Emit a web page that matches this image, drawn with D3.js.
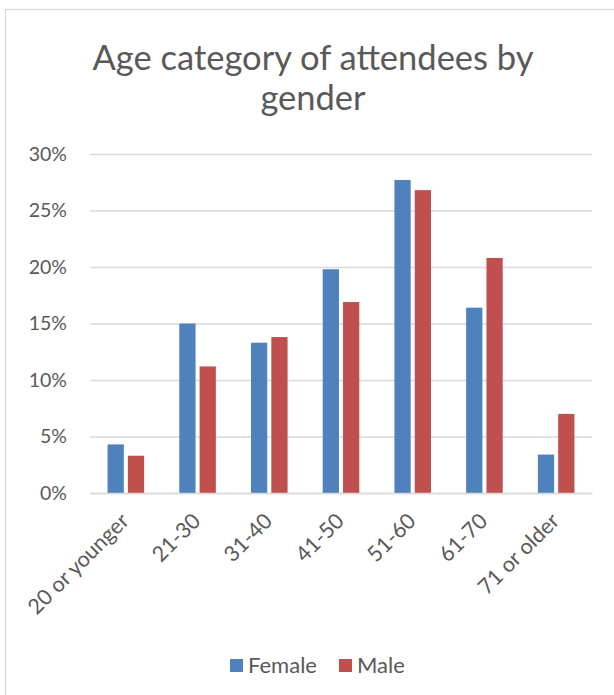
<!DOCTYPE html>
<html>
<head>
<meta charset="utf-8">
<script src="https://cdn.jsdelivr.net/npm/d3@7"></script>
<style>
  html, body { margin: 0; padding: 0; background: #fff; }
  svg { display: block; font-family: Lato, "Open Sans", sans-serif; }
</style>
</head>
<body>
<svg id="chart" width="614" height="695"></svg>
<script>
// Share of attendees in each age band, split by gender
const categories = ["20 or younger", "21-30", "31-40", "41-50", "51-60", "61-70", "71 or older"];
const series = ["Female", "Male"];
const femaleValues = [0.043, 0.150, 0.133, 0.198, 0.277, 0.164, 0.034];
const maleValues   = [0.033, 0.112, 0.138, 0.169, 0.268, 0.208, 0.070];
const yTicks = [0, 0.05, 0.10, 0.15, 0.20, 0.25, 0.30];
const titleLines = ["Age category of attendees by", "gender"];
const colors = { Female: "#4F81BD", Male: "#C0504D" };

const rows = categories.map((c, i) => ({ category: c, Female: femaleValues[i], Male: maleValues[i] }));

const svg = d3.select("#chart");
const textColor = "#595959";
const gridColor = "#D9D9D9";

// chart area frame
svg.append("rect")
  .attr("x", 5.5).attr("y", 9.5)
  .attr("width", 700).attr("height", 700)
  .attr("fill", "none").attr("stroke", gridColor).attr("stroke-width", 1.2);

// title
svg.append("g").selectAll("text")
  .data(titleLines)
  .join("text")
  .attr("x", 313)
  .attr("y", (d, i) => 70 + i * 40)
  .attr("text-anchor", "middle")
  .attr("fill", textColor)
  .attr("font-size", 34.5)
  .text(d => d);

const plot = { left: 90, right: 592, top: 154, bottom: 493 };

const x0 = d3.scaleBand()
  .domain(categories)
  .range([plot.left, plot.right])
  .paddingInner(0.49)
  .paddingOuter(0.245);

const x1 = d3.scaleBand()
  .domain(series)
  .range([0, x0.bandwidth()])
  .paddingInner(0.2);

const y = d3.scaleLinear()
  .domain([0, 0.30])
  .range([plot.bottom, plot.top]);

// horizontal gridlines with percent labels
const yAxis = d3.axisLeft(y)
  .tickValues(yTicks)
  .tickSize(-(plot.right - plot.left))
  .tickPadding(23)
  .tickFormat(d3.format(".0%"));

const gy = svg.append("g")
  .attr("transform", `translate(${plot.left},0)`)
  .call(yAxis);
gy.select(".domain").remove();
gy.selectAll(".tick line").attr("stroke", gridColor).attr("stroke-width", 1.3);
gy.selectAll(".tick text")
  .attr("fill", textColor)
  .attr("font-size", 19.5)
  .attr("font-family", "Lato, 'Open Sans', sans-serif");

// grouped bars
const groups = svg.append("g")
  .selectAll("g")
  .data(rows)
  .join("g")
  .attr("transform", d => `translate(${x0(d.category)},0)`);

groups.selectAll("rect")
  .data(d => series.map(s => ({ key: s, value: d[s] })))
  .join("rect")
  .attr("x", d => x1(d.key))
  .attr("width", x1.bandwidth())
  .attr("y", d => y(d.value))
  .attr("height", d => y(0) - y(d.value))
  .attr("fill", d => colors[d.key]);

// category axis line and rotated labels
const xAxis = d3.axisBottom(x0).tickSize(0).tickFormat("");
const gx = svg.append("g")
  .attr("transform", `translate(0,${plot.bottom})`)
  .call(xAxis);
gx.select(".domain").attr("stroke", gridColor).attr("stroke-width", 1.3);

svg.append("g").selectAll("text")
  .data(categories)
  .join("text")
  .attr("transform", d => `translate(${x0(d) + x0.bandwidth() / 2 - 1},${plot.bottom + 24}) rotate(-45)`)
  .attr("text-anchor", "end")
  .attr("dy", "0.35em")
  .attr("fill", textColor)
  .attr("font-size", 21.5)
  .text(d => d);

// legend
const legend = svg.append("g");
const legendX = [230, 339];
series.forEach((s, i) => {
  legend.append("rect")
    .attr("x", legendX[i]).attr("y", 659)
    .attr("width", 13).attr("height", 13)
    .attr("fill", colors[s]);
  legend.append("text")
    .attr("x", legendX[i] + 18).attr("y", 673)
    .attr("fill", textColor)
    .attr("font-size", 22)
    .text(s);
});
</script>
</body>
</html>
